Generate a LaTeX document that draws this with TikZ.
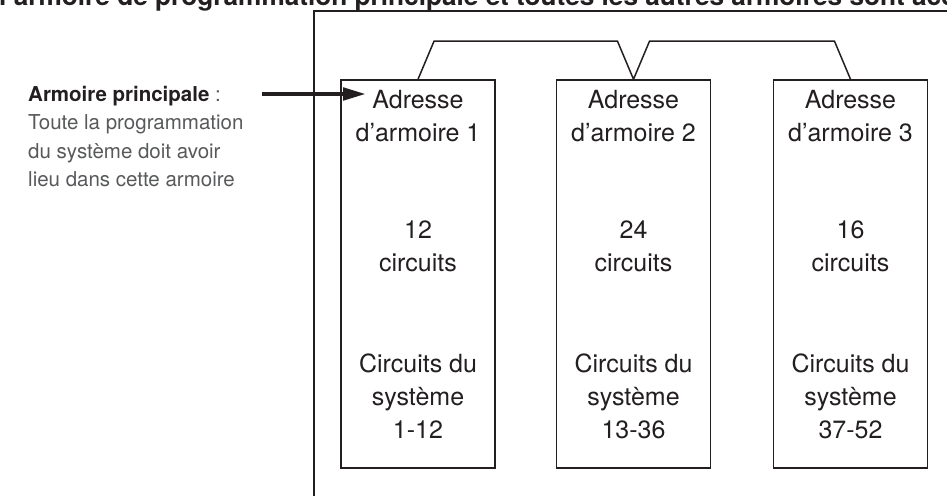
\documentclass[tikz,border=0pt]{standalone}
\usepackage{fontspec}
\setmainfont{TeX Gyre Heros}
\usetikzlibrary{arrows.meta,calc}
\definecolor{ink}{HTML}{231F20}
\definecolor{greytxt}{HTML}{58595B}
\tikzset{
  cabinet/.style={draw=ink, line width=1.5pt, minimum width=154pt, minimum height=388pt, inner sep=0pt},
  btxt/.style={anchor=base, inner sep=0pt, text=ink, font=\fontsize{25}{33}\selectfont},
  ltxt/.style={anchor=base west, inner sep=0pt, text=greytxt, font=\fontsize{20.5}{28}\selectfont},
  conn/.style={draw=ink, line width=1.5pt, line join=miter},
  frameline/.style={draw=ink, line width=1.5pt},
  bigarrow/.style={draw=ink, line width=4.5pt, -{Triangle[length=23pt,width=12pt]}}
}
\begin{document}
\begin{tikzpicture}[x=1pt,y=-1pt]
\useasboundingbox (0,0) rectangle (947,495);
% title (cut by the page edge)
\node[anchor=base west, inner sep=0pt, text=ink, font=\bfseries\fontsize{26.2}{30}\selectfont] (title) at (-1,6)
  {l’armoire de programmation principale et toutes les autres armoires sont accessibles};
% frame
\coordinate (fb) at (314,498);
\coordinate (fc) at (314,11);
\coordinate (fr) at (950,11);
\draw[frameline] (fb) -- (fc);
\draw[frameline, line width=2.2pt] ([xshift=-0.75pt]fc) -- (fr);
% cabinets
\foreach \i/\x/\n/\r in {1/418/12/1-12, 2/633.5/24/13-36, 3/850.5/16/37-52} {
  \node[cabinet] (b\i) at (\x,274) {};
  \node[btxt] (adr\i) at (\x,108) {Adresse};
  \node[btxt] (arm\i) at (\x,141) {d’armoire \i};
  \node[btxt] (num\i) at (\x,238) {\n};
  \node[btxt] (cir\i) at (\x,271) {circuits};
  \node[btxt] (cdu\i) at (\x,372) {Circuits du};
  \node[btxt] (sys\i) at (\x,405) {système};
  \node[btxt] (rng\i) at (\x,438) {\r};
}
% link between cabinets
\draw[conn] (b1.north) -- ++(16,-38) -- ([shift={(-16,-38)}]b2.north) -- (b2.north)
  -- ++(16,-38) -- ([shift={(-16,-38)}]b3.north) -- (b3.north);
% left label
\node[ltxt] (lab1) at (28,101) {\textcolor{ink}{\bfseries Armoire principale} :};
\node[ltxt] (lab2) at (28,129.5) {Toute la programmation};
\node[ltxt] (lab3) at (28,158) {du système doit avoir};
\node[ltxt] (lab4) at (28,186.5) {lieu dans cette armoire};
% arrow
\coordinate (arrs) at (262,94);
\draw[bigarrow] (arrs) -- ([xshift=-6pt]arrs -| adr1.west);
\end{tikzpicture}
\end{document}
